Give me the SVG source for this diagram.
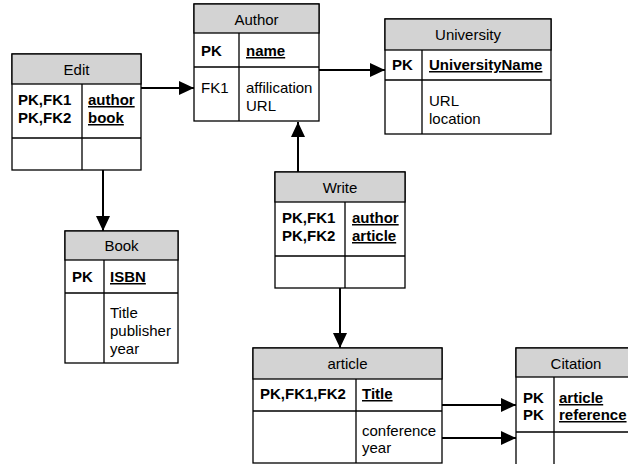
<svg xmlns="http://www.w3.org/2000/svg" width="628" height="464" viewBox="0 0 628 464">
  <defs>
    <marker id="arrow" viewBox="0 0 15 14" refX="15" refY="7" markerWidth="15" markerHeight="14" markerUnits="userSpaceOnUse" orient="auto">
      <path d="M0,0 L15,7 L0,14 Z" fill="#000"/>
    </marker>
    <style>
      .box { fill: #fff; stroke: #000; stroke-width: 1.3; }
      .head { fill: #d3d3d3; stroke: #000; stroke-width: 1.3; }
      .div { stroke: #000; stroke-width: 1.3; fill: none; }
      text { font-family: "Liberation Sans", Arial, sans-serif; font-size: 15px; fill: #000; }
      .title { text-anchor: middle; }
      .key { font-weight: bold; }
      .pk { font-weight: bold; text-decoration: underline; }
      .edge { stroke: #000; stroke-width: 2; fill: none; marker-end: url(#arrow); }
    </style>
  </defs>
  <rect width="628" height="464" fill="#fff"/>

  <!-- Edit -->
  <g id="edit">
    <rect class="box" x="12" y="54" width="129" height="116"/>
    <rect class="head" x="12" y="54" width="129" height="30"/>
    <path class="div" d="M12,138 H141 M82,84 V170"/>
    <text class="title" x="76.5" y="75">Edit</text>
    <text class="key" x="18" y="105">PK,FK1</text>
    <text class="key" x="18" y="123">PK,FK2</text>
    <text class="pk" x="88" y="105">author</text>
    <text class="pk" x="88" y="123">book</text>
  </g>

  <!-- Author -->
  <g id="author">
    <rect class="box" x="194" y="4" width="125" height="117"/>
    <rect class="head" x="194" y="4" width="125" height="29"/>
    <path class="div" d="M194,67 H319 M239,33 V121"/>
    <text class="title" x="256.5" y="25">Author</text>
    <text class="key" x="201" y="56">PK</text>
    <text class="pk" x="246" y="56">name</text>
    <text x="201" y="92.5">FK1</text>
    <text x="246" y="92.5">affilication</text>
    <text x="246" y="110.5">URL</text>
  </g>

  <!-- University -->
  <g id="university">
    <rect class="box" x="385" y="19" width="166" height="115"/>
    <rect class="head" x="385" y="19" width="166" height="31"/>
    <path class="div" d="M385,80 H551 M422,50 V134"/>
    <text class="title" x="468" y="40">University</text>
    <text class="key" x="392" y="70">PK</text>
    <text class="pk" x="429" y="70">UniversityName</text>
    <text x="429" y="106">URL</text>
    <text x="429" y="124">location</text>
  </g>

  <!-- Book -->
  <g id="book">
    <rect class="box" x="65" y="231" width="113" height="132"/>
    <rect class="head" x="65" y="231" width="113" height="29"/>
    <path class="div" d="M65,293 H178 M104,260 V363"/>
    <text class="title" x="121.5" y="251">Book</text>
    <text class="key" x="72" y="282">PK</text>
    <text class="pk" x="110" y="282">ISBN</text>
    <text x="110" y="318">Title</text>
    <text x="110" y="336">publisher</text>
    <text x="110" y="354">year</text>
  </g>

  <!-- Write -->
  <g id="write">
    <rect class="box" x="275" y="172" width="130" height="116"/>
    <rect class="head" x="275" y="172" width="130" height="30"/>
    <path class="div" d="M275,256 H405 M345,202 V288"/>
    <text class="title" x="340" y="193">Write</text>
    <text class="key" x="282" y="223">PK,FK1</text>
    <text class="key" x="282" y="241">PK,FK2</text>
    <text class="pk" x="352" y="223">author</text>
    <text class="pk" x="352" y="241">article</text>
  </g>

  <!-- article -->
  <g id="article">
    <rect class="box" x="253" y="348" width="189" height="115"/>
    <rect class="head" x="253" y="348" width="189" height="31"/>
    <path class="div" d="M253,411 H442 M356,379 V463"/>
    <text class="title" x="347.5" y="369">article</text>
    <text class="key" x="260" y="399">PK,FK1,FK2</text>
    <text class="pk" x="362" y="399">Title</text>
    <text x="362" y="436">conference</text>
    <text x="362" y="453">year</text>
  </g>

  <!-- Citation -->
  <g id="citation">
    <rect class="box" x="516" y="348" width="120" height="120"/>
    <rect class="head" x="516" y="348" width="120" height="29"/>
    <path class="div" d="M516,432 H636 M554,377 V468"/>
    <text class="title" x="576" y="369">Citation</text>
    <text class="key" x="523" y="403">PK</text>
    <text class="key" x="523" y="420">PK</text>
    <text class="pk" x="559" y="403">article</text>
    <text class="pk" x="559" y="420">reference</text>
  </g>

  <!-- connectors -->
  <g id="connectors">
    <path class="edge" d="M141,88 H194"/>
    <path class="edge" d="M319,70 H385"/>
    <path class="edge" d="M103,170 V231"/>
    <path class="edge" d="M298,172 V122"/>
    <path class="edge" d="M340,288 V348"/>
    <path class="edge" d="M442,405 H516"/>
    <path class="edge" d="M442,438 H516"/>
  </g>
</svg>
